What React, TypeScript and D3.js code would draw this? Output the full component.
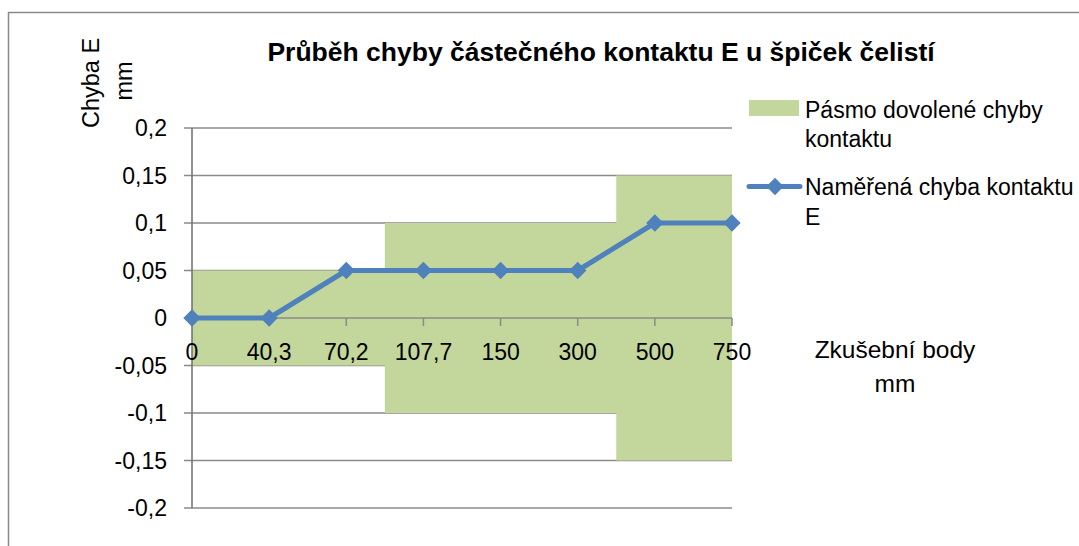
import React from "react";
import * as d3 from "d3";

const categories = ["0", "40,3", "70,2", "107,7", "150", "300", "500", "750"];
const measured = [0, 0, 0.05, 0.05, 0.05, 0.05, 0.1, 0.1];
const allowedBand = [0.05, 0.05, 0.05, 0.1, 0.1, 0.1, 0.15, 0.15];
const yTicks = [0.2, 0.15, 0.1, 0.05, 0, -0.05, -0.1, -0.15, -0.2];

const titleText = "Průběh chyby částečného kontaktu E u špiček čelistí";
const yTitle = ["Chyba E", "mm"];
const xTitle = ["Zkušební body", "mm"];
const legendBand = ["Pásmo dovolené chyby", "kontaktu"];
const legendLine = ["Naměřená chyba kontaktu", "E"];

const W = 1079;
const H = 546;
const FONT = "'Liberation Sans', Arial, sans-serif";
const GREEN = "#c3d69b";
const BLUE = "#4f81bd";
const GRID = "#8a8a8a";

const fmt = (v: number) => {
  const s = d3.format("")(Math.round(v * 100) / 100);
  return s.replace(".", ",").replace("−", "-");
};

export default function App() {
  const x = d3.scalePoint<string>().domain(categories).range([192, 732]);
  const y = d3.scaleLinear().domain([-0.2, 0.2]).range([508, 128]);

  const band = d3
    .area<number>()
    .x((_, i) => x(categories[i])!)
    .y0((d) => y(-d))
    .y1((d) => y(d))
    .curve(d3.curveStep);

  const line = d3
    .line<number>()
    .x((_, i) => x(categories[i])!)
    .y((d) => y(d));

  const diamond = d3.symbol(d3.symbolSquare, 150)();

  return (
    <svg
      width={W}
      height={H}
      style={{ position: "absolute", left: 0, top: 0, background: "#fff" }}
      fontFamily={FONT}
    >
      <rect x={8.5} y={12.5} width={1200} height={700} fill="#fff" stroke={GRID} strokeWidth={1.5} />

      {/* title */}
      <text x={601} y={61} textAnchor="middle" fontSize={26.5} fontWeight="bold" fill="#000">
        {titleText}
      </text>

      {/* y axis title */}
      <g fontSize={23.5} fill="#000" textAnchor="middle">
        <text transform="translate(99,83) rotate(-90)">{yTitle[0]}</text>
        <text transform="translate(132,81) rotate(-90)">{yTitle[1]}</text>
      </g>

      {/* gridlines */}
      {yTicks
        .filter((t) => t !== 0)
        .map((t) => (
          <line key={"g" + t} x1={184} x2={732} y1={y(t)} y2={y(t)} stroke={GRID} strokeWidth={1.5} />
        ))}

      {/* band */}
      <path d={band(allowedBand)!} fill={GREEN} />

      {/* axes */}
      <line x1={184} x2={732} y1={y(0)} y2={y(0)} stroke={GRID} strokeWidth={1.5} />
      {categories.map((c) => (
        <line key={"xt" + c} x1={x(c)} x2={x(c)} y1={y(0)} y2={y(0) + 8} stroke={GRID} strokeWidth={1.5} />
      ))}
      <line x1={192} x2={192} y1={128} y2={508} stroke="#6e6e6e" strokeWidth={1.5} />

      {/* y tick labels */}
      <g fontSize={23} fill="#000" textAnchor="end">
        {yTicks.map((t) => (
          <text key={"yl" + t} x={167} y={y(t)} dy="0.35em">
            {fmt(t)}
          </text>
        ))}
      </g>

      {/* x tick labels */}
      <g fontSize={23} fill="#000" textAnchor="middle">
        {categories.map((c) => (
          <text key={"xl" + c} x={x(c)} y={360}>
            {c}
          </text>
        ))}
      </g>

      {/* measured line */}
      <path d={line(measured)!} fill="none" stroke={BLUE} strokeWidth={5} strokeLinejoin="round" />
      {measured.map((v, i) => (
        <path
          key={"m" + i}
          d={diamond!}
          transform={`translate(${x(categories[i])},${y(v)}) rotate(45)`}
          fill={BLUE}
        />
      ))}

      {/* x axis title */}
      <g fontSize={24.5} fill="#000" textAnchor="middle">
        <text x={895} y={358}>{xTitle[0]}</text>
        <text x={895} y={392}>{xTitle[1]}</text>
      </g>

      {/* legend */}
      <rect x={749} y={100} width={50} height={16} fill={GREEN} />
      <g fontSize={23} fill="#000">
        <text x={805} y={118}>{legendBand[0]}</text>
        <text x={805} y={147}>{legendBand[1]}</text>
        <text x={805} y={195}>{legendLine[0]}</text>
        <text x={805} y={225}>{legendLine[1]}</text>
      </g>
      <line x1={749} x2={800} y1={186.5} y2={186.5} stroke={BLUE} strokeWidth={5} strokeLinecap="round" />
      <path d={diamond!} transform="translate(775,186.5) rotate(45)" fill={BLUE} />
    </svg>
  );
}
